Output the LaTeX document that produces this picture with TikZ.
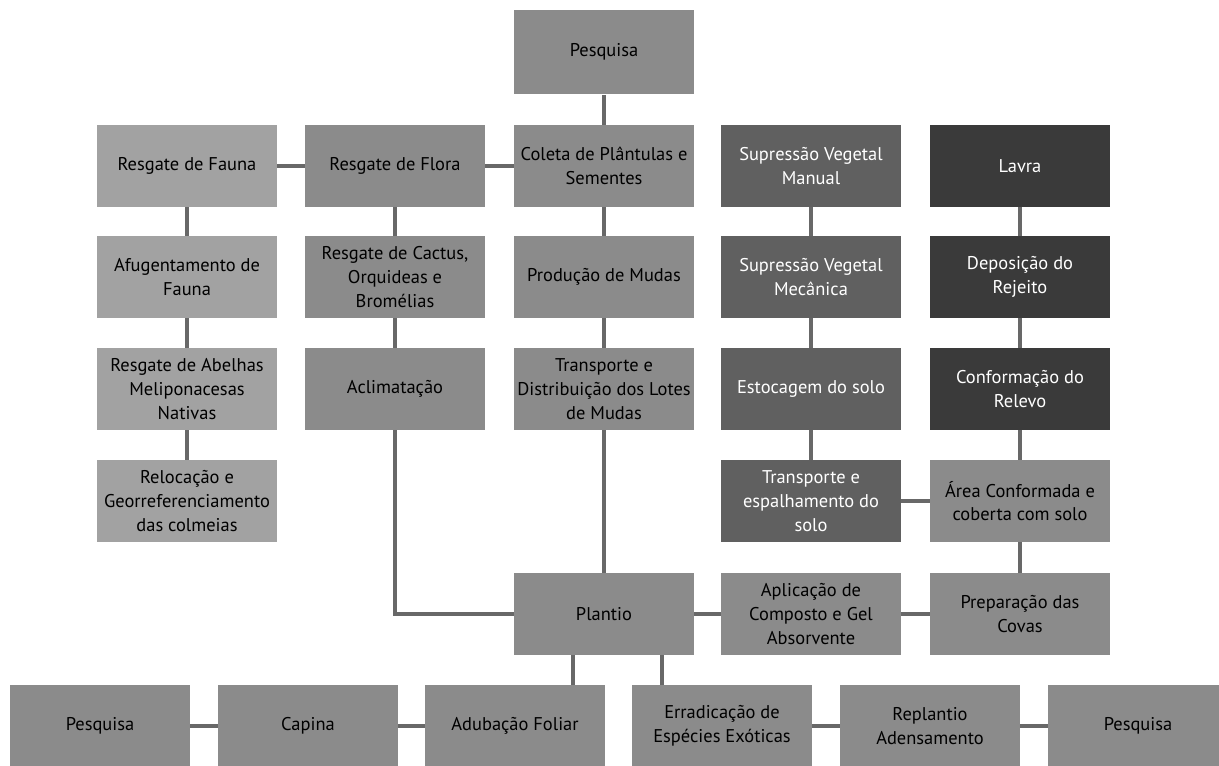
\documentclass[tikz,border=0pt]{standalone}
\usepackage{fontspec}
\setmainfont{PT Sans}
\definecolor{cinzaClaro}{HTML}{A2A2A2}
\definecolor{cinzaMedio}{HTML}{8B8B8B}
\definecolor{cinzaEscuro}{HTML}{606060}
\definecolor{cinzaNegro}{HTML}{3A3A3A}
\definecolor{cinzaLinha}{HTML}{686868}
\tikzset{
  >=latex,
}
\tikzstyle{every node}=[font=\fontsize{10.5}{13.5}\selectfont]
\tikzstyle{etapa}=[rectangle,minimum width=3.6cm,minimum height=1.64cm,
  align=center,inner sep=1pt,fill=cinzaMedio,text=black]
\tikzstyle{fauna}=[etapa,fill=cinzaClaro]
\tikzstyle{supressao}=[etapa,fill=cinzaEscuro,text=white]
\tikzstyle{lavra}=[etapa,fill=cinzaNegro,text=white]
\tikzstyle{linha}=[cinzaLinha,line width=2.4pt]

\begin{document}
\begin{tikzpicture}[x=0.02cm,y=-0.02cm]
  \useasboundingbox (0,0) rectangle (1219,765);
  % topo
  \node[etapa,minimum height=1.7cm] (pesqTopo) at (604,52) {Pesquisa};
  % linha 1
  \node[fauna] (fauna) at (187,166) {Resgate de Fauna};
  \node[etapa] (flora) at (395,166) {Resgate de Flora};
  \node[etapa] (coleta) at (604,166) {Coleta de Plântulas e\\Sementes};
  \node[supressao] (supManual) at (811,166) {Supressão Vegetal\\Manual};
  \node[lavra] (lavra) at (1020,166) {Lavra};
  % linha 2
  \node[fauna] (afugenta) at (187,277) {Afugentamento de\\Fauna};
  \node[etapa] (cactus) at (395,277) {Resgate de Cactus,\\Orquideas e\\Bromélias};
  \node[etapa] (mudas) at (604,277) {Produção de Mudas};
  \node[supressao] (supMec) at (811,277) {Supressão Vegetal\\Mecânica};
  \node[lavra] (rejeito) at (1020,277) {Deposição do\\Rejeito};
  % linha 3
  \node[fauna] (abelhas) at (187,389) {Resgate de Abelhas\\Meliponacesas\\Nativas};
  \node[etapa] (aclim) at (395,389) {Aclimatação};
  \node[etapa] (lotes) at (604,389) {Transporte e\\Distribuição dos Lotes\\de Mudas};
  \node[supressao] (estoque) at (811,389) {Estocagem do solo};
  \node[lavra] (relevo) at (1020,389) {Conformação do\\Relevo};
  % linha 4
  \node[fauna] (colmeias) at (187,501) {Relocação e\\Georreferenciamento\\das colmeias};
  \node[supressao] (espalha) at (811,501) {Transporte e\\espalhamento do\\solo};
  \node[etapa] (area) at (1020,501) {Área Conformada e\\coberta com solo};
  % linha 5
  \node[etapa] (plantio) at (604,614) {Plantio};
  \node[etapa] (aplic) at (811,614) {Aplicação de\\Composto e Gel\\Absorvente};
  \node[etapa] (covas) at (1020,614) {Preparação das\\Covas};
  % linha 6
  \node[etapa] (pesqA) at (100,726) {Pesquisa};
  \node[etapa] (capina) at (308,726) {Capina};
  \node[etapa] (adub) at (515,726) {Adubação Foliar};
  \node[etapa] (errad) at (722,726) {Erradicação de\\Espécies Exóticas};
  \node[etapa] (replantio) at (930,726) {Replantio\\Adensamento};
  \node[etapa] (pesqB) at (1138,726) {Pesquisa};

  % conexoes
  \draw[linha] (pesqTopo) -- (coleta);
  \draw[linha] (fauna) -- (flora);
  \draw[linha] (flora) -- (coleta);
  \draw[linha] (fauna) -- (afugenta);
  \draw[linha] (afugenta) -- (abelhas);
  \draw[linha] (abelhas) -- (colmeias);
  \draw[linha] (flora) -- (cactus);
  \draw[linha] (cactus) -- (aclim);
  \draw[linha] (aclim) |- (plantio);
  \draw[linha] (coleta) -- (mudas);
  \draw[linha] (mudas) -- (lotes);
  \draw[linha] (lotes) -- (plantio);
  \draw[linha] (supManual) -- (supMec);
  \draw[linha] (supMec) -- (estoque);
  \draw[linha] (estoque) -- (espalha);
  \draw[linha] (lavra) -- (rejeito);
  \draw[linha] (rejeito) -- (relevo);
  \draw[linha] (relevo) -- (area);
  \draw[linha] (espalha) -- (area);
  \draw[linha] (area) -- (covas);
  \draw[linha] (covas) -- (aplic);
  \draw[linha] (aplic) -- (plantio);
  \draw[linha] ([xshift=-0.62cm]plantio.south) -- ([xshift=-0.62cm]plantio.south |- adub.north);
  \draw[linha] ([xshift=1.16cm]plantio.south) -- ([xshift=1.16cm]plantio.south |- errad.north);
  \draw[linha] (pesqA) -- (capina);
  \draw[linha] (capina) -- (adub);
  \draw[linha] (errad) -- (replantio);
  \draw[linha] (replantio) -- (pesqB);
\end{tikzpicture}
\end{document}
